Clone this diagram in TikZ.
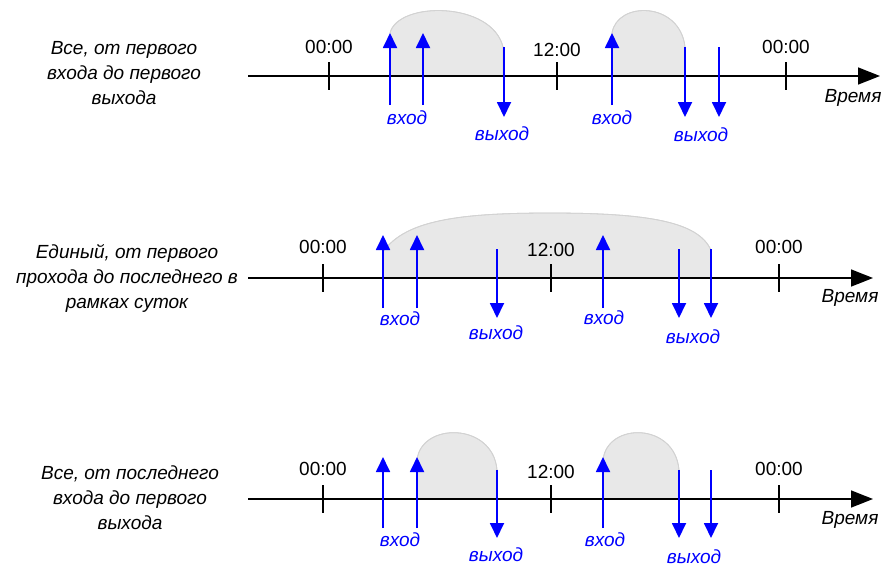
\documentclass[tikz,border=0pt]{standalone}
\usepackage{fontspec}
\setmainfont{Liberation Sans}
\usetikzlibrary{arrows.meta}
\definecolor{shfill}{HTML}{E8E8E8}
\definecolor{shline}{HTML}{D2D2D2}
\begin{document}
\begin{tikzpicture}[x=1pt,y=-1pt,
  txt/.style={font=\fontsize{19}{25}\selectfont, inner sep=0pt},
  side/.style={txt, font=\fontsize{19}{25}\selectfont\itshape, align=center},
  hour/.style={txt},
  tlabel/.style={txt, font=\fontsize{19}{25}\selectfont\itshape},
  evlabel/.style={txt, font=\fontsize{19}{25}\selectfont\itshape, text=blue},
  axisline/.style={line width=1.6pt, -{Triangle[length=22pt,width=17pt]}},
  tickline/.style={line width=1.6pt},
  evarrow/.style={blue, line width=1.8pt, -{Triangle[length=15pt,width=14pt]}},
  stay/.style={fill=shfill, draw=shline, line width=0.8pt}]
\useasboundingbox (0,0) rectangle (886,566);

% ===== Row 1 =====
\fill[stay] (390,76) -- (390,33) .. controls (398,1) and (492,1) .. (503,47) -- (503,76) -- cycle;
\fill[stay] (612,76) -- (612,33) .. controls (617,1) and (680,1) .. (685,47) -- (685,76) -- cycle;
\draw[stay, fill=none] (390,33) .. controls (398,1) and (492,1) .. (503,47);
\draw[stay, fill=none] (612,33) .. controls (617,1) and (680,1) .. (685,47);
\coordinate (r1s) at (248,76); \coordinate (r1e) at (880,76);
\draw[axisline] (r1s) -- (r1e);
\foreach \x/\n in {329/a,557/b,786/c}{
  \coordinate (r1t\n u) at (\x,62); \coordinate (r1t\n d) at (\x,90);
  \draw[tickline] (r1t\n u) -- (r1t\n d);}
\node[hour] (r1h0) at (329,47) {00:00};
\node[hour] (r1h12) at (557,50) {12:00};
\node[hour] (r1h24) at (786,47) {00:00};
\foreach \x/\n in {390/a,423/b,612/c}{
  \coordinate (r1i\n s) at (\x,105); \coordinate (r1i\n e) at (\x,33);
  \draw[evarrow] (r1i\n s) -- (r1i\n e);}
\foreach \x/\n in {504/a,685/b,719/c}{
  \coordinate (r1o\n s) at (\x,47); \coordinate (r1o\n e) at (\x,117);
  \draw[evarrow] (r1o\n s) -- (r1o\n e);}
\node[evlabel] (r1l1) at (407,118) {вход};
\node[evlabel] (r1l2) at (502,134) {выход};
\node[evlabel] (r1l3) at (612,118) {вход};
\node[evlabel] (r1l4) at (701,135) {выход};
\node[tlabel] (r1time) at (853,98) {Время};
\node[side] (r1name) at (124,73) {Все, от первого\\входа до первого\\выхода};

% ===== Row 2 =====
\fill[stay] (383,278) -- (383,252) .. controls (405,220) and (460,213) .. (550,213) .. controls (650,213) and (698,222) .. (711,250) -- (711,278) -- cycle;
\draw[stay, fill=none] (383,252) .. controls (405,220) and (460,213) .. (550,213) .. controls (650,213) and (698,222) .. (711,250);
\coordinate (r2s) at (248,278); \coordinate (r2e) at (873,278);
\draw[axisline] (r2s) -- (r2e);
\foreach \x/\n in {323/a,551/b,779/c}{
  \coordinate (r2t\n u) at (\x,264); \coordinate (r2t\n d) at (\x,292);
  \draw[tickline] (r2t\n u) -- (r2t\n d);}
\node[hour] (r2h0) at (323,247) {00:00};
\node[hour] (r2h12) at (551,250) {12:00};
\node[hour] (r2h24) at (779,247) {00:00};
\foreach \x/\n in {383/a,417/b,603/c}{
  \coordinate (r2i\n s) at (\x,308); \coordinate (r2i\n e) at (\x,235);
  \draw[evarrow] (r2i\n s) -- (r2i\n e);}
\foreach \x/\n in {497/a,679/b,711/c}{
  \coordinate (r2o\n s) at (\x,249); \coordinate (r2o\n e) at (\x,318);
  \draw[evarrow] (r2o\n s) -- (r2o\n e);}
\node[evlabel] (r2l1) at (400,319) {вход};
\node[evlabel] (r2l2) at (496,333) {выход};
\node[evlabel] (r2l3) at (604,318) {вход};
\node[evlabel] (r2l4) at (693,337) {выход};
\node[tlabel] (r2time) at (850,298) {Время};
\node[side] (r2name) at (127,278) {Единый, от первого\\прохода до последнего в\\рамках суток};

% ===== Row 3 =====
\fill[stay] (417,499) -- (417,460) .. controls (421,422) and (493,422) .. (497,470) -- (497,499) -- cycle;
\fill[stay] (603,499) -- (603,460) .. controls (607,422) and (675,422) .. (679,470) -- (679,499) -- cycle;
\draw[stay, fill=none] (417,460) .. controls (421,422) and (493,422) .. (497,470);
\draw[stay, fill=none] (603,460) .. controls (607,422) and (675,422) .. (679,470);
\coordinate (r3s) at (248,499); \coordinate (r3e) at (873,499);
\draw[axisline] (r3s) -- (r3e);
\foreach \x/\n in {323/a,551/b,779/c}{
  \coordinate (r3t\n u) at (\x,485); \coordinate (r3t\n d) at (\x,513);
  \draw[tickline] (r3t\n u) -- (r3t\n d);}
\node[hour] (r3h0) at (323,469) {00:00};
\node[hour] (r3h12) at (551,472) {12:00};
\node[hour] (r3h24) at (779,469) {00:00};
\foreach \x/\n in {383/a,417/b,603/c}{
  \coordinate (r3i\n s) at (\x,528); \coordinate (r3i\n e) at (\x,457);
  \draw[evarrow] (r3i\n s) -- (r3i\n e);}
\foreach \x/\n in {497/a,679/b,711/c}{
  \coordinate (r3o\n s) at (\x,470); \coordinate (r3o\n e) at (\x,538);
  \draw[evarrow] (r3o\n s) -- (r3o\n e);}
\node[evlabel] (r3l1) at (400,540) {вход};
\node[evlabel] (r3l2) at (496,555) {выход};
\node[evlabel] (r3l3) at (605,540) {вход};
\node[evlabel] (r3l4) at (694,557) {выход};
\node[tlabel] (r3time) at (850,520) {Время};
\node[side] (r3name) at (130,498) {Все, от последнего\\входа до первого\\выхода};
\end{tikzpicture}
\end{document}
